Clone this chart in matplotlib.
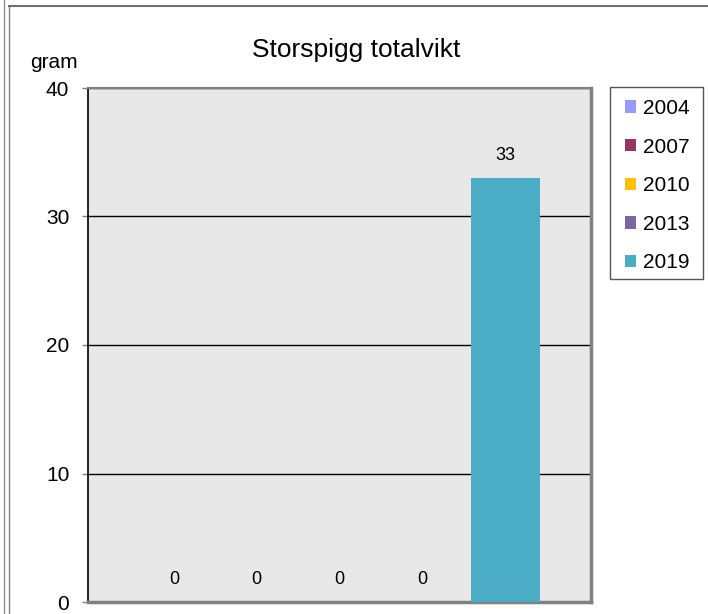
import matplotlib
matplotlib.use("Agg")
import matplotlib.pyplot as plt
from matplotlib.lines import Line2D
from matplotlib.patches import Rectangle

plt.rcParams['font.family'] = ['Liberation Sans', 'DejaVu Sans']

# series (one group, one bar per year)
years = ["2004", "2007", "2010", "2013", "2019"]
values = [0, 0, 0, 0, 33]
colors = ["#9999ff", "#993366", "#ffc000", "#8064a2", "#4bacc6"]
yticks = [0, 10, 20, 30, 40]

fig = plt.figure(figsize=(7.08, 6.14), dpi=100)
ax = fig.add_axes([88 / 708, 1 - 602 / 614, 503 / 708, 514 / 614])
ax.set_facecolor("#e8e8e8")

bar_w = 0.83
for i, (yr, v, c) in enumerate(zip(years, values, colors)):
    xpos = i - 2
    ax.bar(xpos, v, width=bar_w, color=c, label=yr, zorder=3)
    ax.annotate(str(v), (xpos, v), xytext=(0, 10), textcoords="offset points",
                ha="center", va="bottom", fontsize=13, zorder=4)

ax.set_xlim(-3.036, 3.036)
ax.set_ylim(0, 40)
ax.set_yticks(yticks)
ax.set_xticks([])
ax.tick_params(axis="y", length=4.5, width=1, color="#808080", pad=9, labelsize=15)
ax.yaxis.grid(True, color="black", linewidth=1, zorder=1)
ax.set_axisbelow(True)

for side in ["top", "right", "bottom"]:
    ax.spines[side].set_color("#808080")
ax.spines["top"].set_linewidth(1.5)
ax.spines["right"].set_linewidth(2.5)
ax.spines["bottom"].set_linewidth(2.5)
ax.spines["left"].set_color("black")
ax.spines["left"].set_linewidth(1.2)

# legend box drawn separately so the padding matches
fig.add_artist(Rectangle((610 / 708, 1 - 279 / 614), 93 / 708, 192 / 614,
                         transform=fig.transFigure, facecolor="white",
                         edgecolor="#555555", lw=1))
leg = fig.legend(loc="upper left", bbox_to_anchor=(625 / 708, 1 - 99 / 614),
                 fontsize=15, frameon=False, handlelength=0.55,
                 handleheight=0.55, handletextpad=0.3, labelspacing=0.94,
                 borderpad=0, borderaxespad=0)

fig.text(356 / 708, 1 - 50 / 614, "Storspigg totalvikt", ha="center", va="center", fontsize=19)
fig.text(54 / 708, 1 - 62 / 614, "gram", ha="center", va="center", fontsize=15)

# outer chart frame lines
fig.add_artist(Line2D([4 / 708, 4 / 708], [0, 1], transform=fig.transFigure, color="#909090", lw=1))
fig.add_artist(Line2D([9 / 708, 9 / 708], [0, 1 - 6 / 614], transform=fig.transFigure, color="#808080", lw=1))
fig.add_artist(Line2D([9 / 708, 1], [1 - 6 / 614, 1 - 6 / 614], transform=fig.transFigure, color="#707070", lw=1.5))

fig.savefig("out.png", dpi=100)
